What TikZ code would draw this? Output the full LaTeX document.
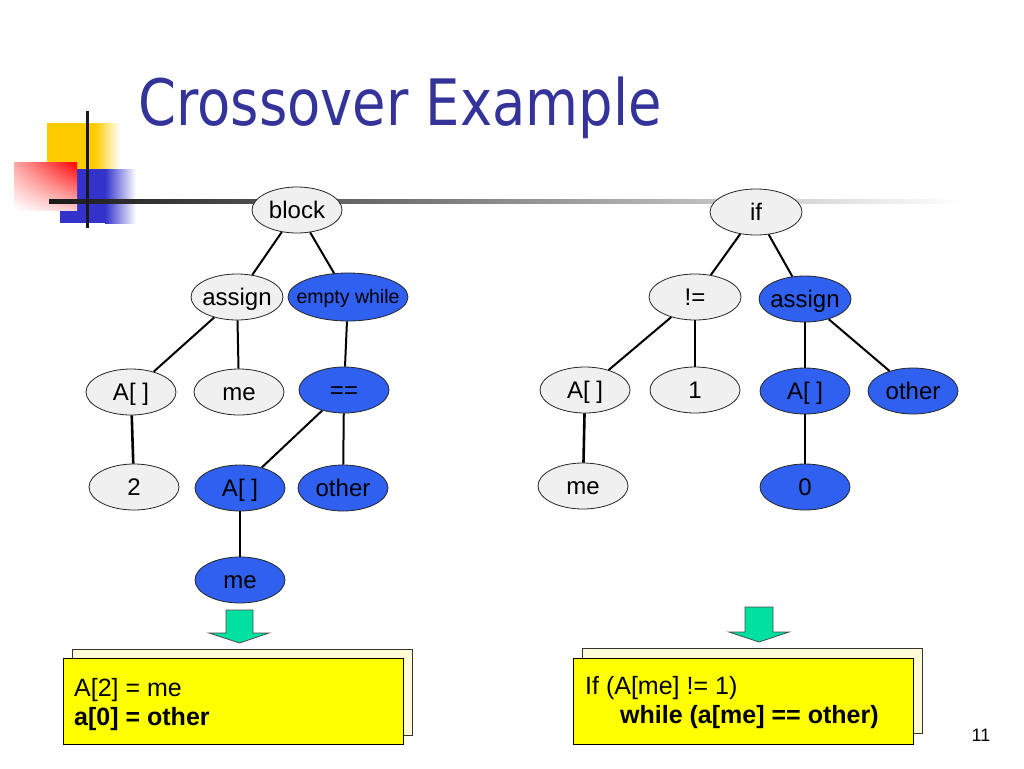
\documentclass[tikz,border=0pt]{standalone}
\usepackage{fontspec}
\usepackage{graphicx}
\setmainfont{Liberation Sans}
\newfontfamily\titlefont{DejaVu Sans}
\usetikzlibrary{shapes.geometric,shadings}
\definecolor{titleblue}{RGB}{51,51,153}
\definecolor{nodeblue}{RGB}{48,96,240}
\definecolor{nodegray}{RGB}{240,240,240}
\definecolor{arrowgreen}{RGB}{0,224,160}
\definecolor{boxyellow}{RGB}{255,255,0}
\definecolor{boxcream}{RGB}{255,251,215}
\definecolor{decoyellow}{RGB}{255,204,0}
\definecolor{decoblue}{RGB}{51,51,204}
\newcommand{\tn}[1]{\makebox[0pt]{#1}}
\begin{document}
\begin{tikzpicture}[x=1pt,y=-1pt,
  tnode/.style={ellipse, draw=black!85, line width=0.8pt, minimum width=90pt, minimum height=46pt, inner sep=0pt, text height=22pt, text depth=5pt, font=\fontsize{24}{28}\selectfont},
  gnode/.style={tnode, fill=nodegray},
  bnode/.style={tnode, fill=nodeblue},
  edge/.style={line width=2pt, black},
  bigarrow/.style={fill=arrowgreen, draw=black!70, line width=0.8pt},
  backbox/.style={fill=boxcream, draw=black!80, line width=1pt},
  frontbox/.style={fill=boxyellow, draw=black, line width=1pt},
  boxtext/.style={anchor=base west, inner sep=0pt, font=\fontsize{25}{30}\selectfont}]
\useasboundingbox (0,0) rectangle (1024,768);
\fill[white] (0,0) rectangle (1024,768);
% decoration
\fill[decoyellow] (47,123) rectangle (95,172);
\shade[left color=decoyellow, right color=white] (95,123) rectangle (120,172);
\fill[decoblue] (60,169) rectangle (105,223);
\shade[left color=decoblue, right color=white] (105,169) rectangle (136,223);
\shade[upper left=red!35, upper right=red, lower left=white, lower right=red!20] (14,162) rectangle (77,210);
\shade[left color=black!90, right color=white] (49,199) rectangle (960,203);
\fill[black!90] (85.5,111) rectangle (89,228);
% title
\node[anchor=base west, inner sep=0pt, text=titleblue, font=\titlefont\fontsize{64}{70}\selectfont] (title) at (138,125) {\scalebox{0.85}[1]{Crossover Example}};
% left tree
\node[gnode] (block) at (297,210) {\tn{block}};
\node[gnode, minimum width=92pt] (assignL) at (237,297) {\tn{assign}};
\node[bnode, minimum width=120pt, minimum height=48pt, text height=17pt, text depth=4pt, font=\fontsize{19.5}{23}\selectfont] (ewhile) at (348,297) {\tn{empty while}};
\node[gnode] (arrL) at (131,392) {\tn{A[ ]}};
\node[gnode] (meL) at (239,392) {\tn{me}};
\node[bnode] (eq) at (344,390) {\tn{==}};
\node[gnode] (two) at (134,487) {\tn{2}};
\node[bnode] (arrLb) at (240,488) {\tn{A[ ]}};
\node[bnode] (otherL) at (343,488) {\tn{other}};
\node[bnode] (meLb) at (240,580) {\tn{me}};
\draw[edge] (block) -- (assignL);
\draw[edge] (block) -- (ewhile);
\draw[edge] (assignL) -- (arrL);
\draw[edge] (assignL) -- (meL);
\draw[edge] (ewhile) -- (eq);
\draw[edge, line width=2.6pt] (arrL) -- (two);
\draw[edge] (eq) -- (arrLb);
\draw[edge] (eq) -- (otherL);
\draw[edge] (arrLb) -- (meLb);
% right tree
\node[gnode, minimum width=92pt] (if) at (756,212) {\tn{if}};
\node[gnode, minimum width=92pt] (neq) at (695,297) {\tn{!=}};
\node[bnode, minimum width=92pt] (assignR) at (805,299) {\tn{assign}};
\node[gnode] (arrR) at (585,390) {\tn{A[ ]}};
\node[gnode] (one) at (695,390) {\tn{1}};
\node[bnode] (arrRb) at (805,391) {\tn{A[ ]}};
\node[bnode] (otherR) at (913,391) {\tn{other}};
\node[gnode] (meR) at (583,486) {\tn{me}};
\node[bnode] (zero) at (805,487) {\tn{0}};
\draw[edge] (if) -- (neq);
\draw[edge] (if) -- (assignR);
\draw[edge] (neq) -- (arrR);
\draw[edge] (neq) -- (one);
\draw[edge] (assignR) -- (arrRb);
\draw[edge] (assignR) -- (otherR);
\draw[edge, line width=2.6pt] (arrR) -- (meR);
\draw[edge] (arrRb) -- (zero);
% arrows
\filldraw[bigarrow] (226,610) -- (253,610) -- (253,633) -- (269,633) -- (239.5,643) -- (209,633) -- (226,633) -- cycle;
\filldraw[bigarrow] (745,607) -- (773,607) -- (773,632) -- (789,632) -- (759,642) -- (729,632) -- (745,632) -- cycle;
% boxes
\filldraw[backbox] (72,649) rectangle (412,735);
\filldraw[frontbox] (63,658) rectangle (403,744);
\node[boxtext] (l1) at (74,696) {A[2] = me};
\node[boxtext, font=\fontsize{25}{30}\selectfont\bfseries] (l2) at (74,725) {a[0] = other};
\filldraw[backbox] (582,648) rectangle (922,733);
\filldraw[frontbox] (573,658) rectangle (913,744);
\node[boxtext] (r1) at (585,694) {If (A[me] != 1)};
\node[boxtext, font=\fontsize{25}{30}\selectfont\bfseries] (r2) at (620,723) {while (a[me] == other)};
% page number
\node[font=\fontsize{18}{21}\selectfont] (page) at (981,735) {11};
\end{tikzpicture}
\end{document}
